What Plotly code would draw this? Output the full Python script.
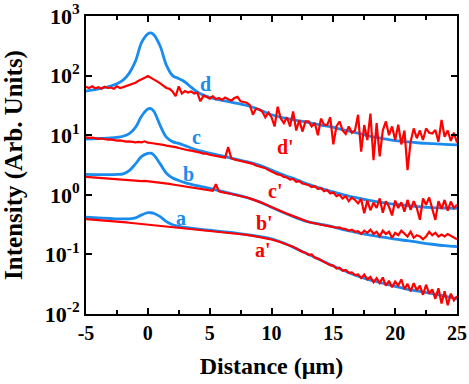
import numpy as np
import plotly.graph_objects as go

# blue curves (smooth), sampled at these distances (um)
x_blue = [-5, -4, -3, -2.5, -2, -1.5, -1, -0.5, 0, 0.25, 0.5, 1, 1.5, 2, 2.5, 3, 3.5, 4, 4.5, 5,
          6, 7, 8, 9, 10, 11, 12, 13, 14, 15, 16, 17, 18, 19, 20, 21, 22, 23, 24, 25]
blue_d = [55, 60, 67, 73, 84, 110, 175, 360, 500, 520, 480, 310, 150, 100, 89, 78, 64, 53, 47, 43,
          38.5, 35, 31.5, 27, 22, 19.5, 17.8, 16.3, 14.8, 13.5, 12, 10.8, 9.6, 8.8, 8.1, 7.7, 7.4, 7.2, 7.0, 6.9]
blue_c = [8.6, 8.8, 9.0, 9.2, 9.6, 10.6, 13.5, 21, 27.5, 28, 25, 14.5, 9.3, 7.8, 7.3, 6.7, 6.1, 5.6, 5.3, 5.0,
          4.5, 4.0, 3.6, 3.15, 2.6, 2.15, 1.8, 1.5, 1.28, 1.12, 0.98, 0.88, 0.8, 0.74, 0.69, 0.66, 0.63, 0.61, 0.6, 0.59]
blue_b = [2.2, 2.18, 2.18, 2.2, 2.25, 2.55, 3.3, 4.4, 4.95, 5.0, 4.6, 3.3, 2.3, 1.92, 1.74, 1.6, 1.5, 1.42, 1.35, 1.28,
          1.14, 1.02, 0.9, 0.77, 0.62, 0.5, 0.41, 0.35, 0.32, 0.29, 0.255, 0.23, 0.21, 0.195, 0.18, 0.17, 0.158, 0.148, 0.14, 0.135]
blue_a = [0.42, 0.41, 0.40, 0.395, 0.393, 0.395, 0.41, 0.46, 0.5, 0.5, 0.485, 0.43, 0.355, 0.315, 0.295, 0.285, 0.276, 0.268, 0.261, 0.255,
          0.242, 0.229, 0.215, 0.2, 0.183, 0.155, 0.125, 0.1, 0.08, 0.064, 0.052, 0.043, 0.037, 0.033, 0.029, 0.026, 0.024, 0.022, 0.02, 0.018]

# red curves (measured), every 0.25 um from -5 to 25
x_red = np.arange(-5, 25.001, 0.25)
red_d = [65, 62, 66, 61, 64, 60, 65, 62, 63, 60, 66, 62, 64, 67, 70, 72, 76, 82, 86, 92,
         98, 92, 88, 80, 74, 68, 62, 60, 54, 45, 66, 50, 55, 52, 54, 50, 52, 37, 46, 44,
         41, 45, 40, 42, 39, 43, 40, 38, 42, 44, 37, 36, 35, 32, 22, 28, 27, 25, 20, 24,
         20, 14, 30, 19, 16, 20, 14, 25, 12, 18, 11.5, 17, 17, 14, 16, 10, 19, 15, 14.8, 20,
         7, 14, 17, 12, 10.5, 14, 11, 12, 22, 5.3, 14.8, 8.3, 23, 3.8, 16, 4.4, 12, 17, 10, 14,
         8.3, 15, 7, 12, 2.6, 7.8, 13, 8.9, 12, 8.3, 13, 11, 10.7, 12.2, 7.8, 18, 9.4, 12, 8, 11,
         7.5]
red_c = [9.2, 9.0, 9.1, 8.8, 8.7, 8.8, 8.5, 8.4, 8.5, 8.2, 8.1, 8.2, 7.9, 7.8, 7.9, 7.7, 7.6, 7.7, 7.6, 7.9,
         7.5, 7.4, 7.3, 7.1, 7.0, 6.9, 6.7, 6.6, 6.4, 6.3, 6.1, 5.9, 5.8, 5.6, 5.5, 5.4, 5.2, 5.1, 4.9, 4.9,
         4.7, 4.6, 4.4, 4.4, 4.2, 4.2, 6.3, 4.1, 3.9, 3.8, 3.7, 3.6, 3.5, 3.4, 3.3, 3.1, 3.0, 2.9, 2.8, 2.6,
         2.45, 2.35, 2.2, 2.15, 2.0, 1.95, 1.8, 1.85, 1.65, 1.7, 1.55, 1.5, 1.45, 1.35, 1.4, 1.25, 1.3, 1.15, 1.2, 1.05,
         1.1, 0.95, 1.0, 0.87, 0.95, 0.78, 0.9, 0.82, 0.72, 0.85, 0.49, 0.8, 0.55, 0.74, 0.6, 0.87, 0.5, 0.78, 0.63, 0.45,
         0.8, 0.6, 0.75, 0.52, 0.82, 0.56, 0.78, 0.6, 0.38, 0.87, 0.68, 0.9, 0.6, 0.38, 0.78, 0.58, 0.82, 0.54, 0.77, 0.6,
         0.68]
red_b = [2.0, 1.98, 1.97, 1.95, 1.93, 1.91, 1.9, 1.87, 1.86, 1.83, 1.8, 1.79, 1.77, 1.76, 1.75, 1.73, 1.72, 1.71, 1.7, 1.71,
         1.69, 1.68, 1.66, 1.63, 1.6, 1.58, 1.55, 1.52, 1.49, 1.46, 1.43, 1.4, 1.38, 1.35, 1.32, 1.3, 1.28, 1.25, 1.23, 1.2,
         1.18, 1.17, 1.5, 1.14, 1.11, 1.09, 1.06, 1.03, 1.0, 0.98, 0.95, 0.93, 0.9, 0.87, 0.84, 0.8, 0.76, 0.73, 0.69, 0.66,
         0.62, 0.59, 0.56, 0.53, 0.5, 0.48, 0.46, 0.44, 0.41, 0.4, 0.38, 0.36, 0.35, 0.34, 0.33, 0.32, 0.315, 0.31, 0.3, 0.295,
         0.29, 0.28, 0.285, 0.27, 0.265, 0.25, 0.26, 0.24, 0.245, 0.22, 0.25, 0.23, 0.26, 0.22, 0.24, 0.2, 0.25, 0.22, 0.24, 0.19,
         0.23, 0.21, 0.25, 0.22, 0.2, 0.24, 0.19, 0.21, 0.2, 0.18, 0.2, 0.24, 0.21, 0.23, 0.2, 0.215, 0.2, 0.22, 0.205, 0.19,
         0.18]
red_a = [0.39, 0.388, 0.383, 0.38, 0.378, 0.372, 0.37, 0.366, 0.362, 0.36, 0.355, 0.352, 0.348, 0.345, 0.34, 0.336, 0.333, 0.33, 0.326, 0.322,
         0.318, 0.316, 0.312, 0.31, 0.305, 0.302, 0.298, 0.293, 0.288, 0.284, 0.282, 0.278, 0.275, 0.272, 0.27, 0.266, 0.263, 0.262, 0.258, 0.255,
         0.252, 0.25, 0.246, 0.243, 0.24, 0.238, 0.235, 0.232, 0.228, 0.225, 0.22, 0.216, 0.212, 0.21, 0.205, 0.2, 0.194, 0.19, 0.186, 0.182,
         0.178, 0.172, 0.168, 0.16, 0.152, 0.148, 0.14, 0.134, 0.125, 0.12, 0.11, 0.107, 0.098, 0.1, 0.088, 0.085, 0.08, 0.074, 0.071, 0.066,
         0.065, 0.058, 0.06, 0.053, 0.055, 0.049, 0.05, 0.045, 0.046, 0.04, 0.046, 0.038, 0.042, 0.034, 0.04, 0.033, 0.041, 0.03, 0.036, 0.028,
         0.035, 0.03, 0.038, 0.026, 0.032, 0.024, 0.033, 0.025, 0.03, 0.021, 0.031, 0.022, 0.026, 0.018, 0.027, 0.015, 0.024, 0.014, 0.022, 0.017,
         0.02]

# curve labels: (text, x, log10 y, colour)
labels = [("d", 4.7, 1.86, "blue"), ("c", 3.9, 0.975, "blue"), ("b", 3.3, 0.35, "blue"), ("a", 2.7, -0.39, "blue"),
          ("d'", 11.1, 0.81, "red"), ("c'", 10.3, 0.07, "red"), ("b'", 9.4, -0.48, "red"), ("a'", 9.3, -0.92, "red")]

BLUE = "#1a8cf0"
RED = "#ff0000"
FONT = "Liberation Serif"

fig = go.Figure()
for ys in (blue_d, blue_c, blue_b, blue_a):
    fig.add_trace(go.Scatter(x=x_blue, y=ys, mode="lines", line=dict(color=BLUE, width=2.8, shape="spline"),
                             showlegend=False))
for ys in (red_d, red_c, red_b, red_a):
    fig.add_trace(go.Scatter(x=x_red, y=ys, mode="lines", line=dict(color=RED, width=2.2),
                             showlegend=False))

for txt, lx, ly, c in labels:
    fig.add_annotation(x=lx, y=ly, text=txt, showarrow=False,
                       font=dict(family=FONT, size=20, color=BLUE if c == "blue" else RED, weight="bold"))

axis_common = dict(showline=True, linecolor="black", linewidth=2, mirror="ticks", ticks="inside",
                   tickcolor="black", tickwidth=1.5, ticklen=6, showgrid=False, zeroline=False,
                   automargin=False, ticklabeloverflow="allow")

fig.update_xaxes(range=[-5, 25], tickvals=[-5, 0, 5, 10, 15, 20, 25],
                 ticktext=["-5", "0", "5", "10", "15", "20", "25"],
                 tickfont=dict(family=FONT, size=20, color="black", weight="bold"),
                 minor=dict(ticks="inside", tickvals=[-2.5, 2.5, 7.5, 12.5, 17.5, 22.5], ticklen=4,
                            tickcolor="black", tickwidth=1.5),
                 title=dict(text="Distance (μm)", font=dict(family=FONT, size=24, color="black", weight="bold"),
                            standoff=14),
                 **axis_common)
fig.update_yaxes(type="log", range=[-2, 3], tickvals=[0.01, 0.1, 1, 10, 100, 1000],
                 ticktext=["10<sup>-2</sup>", "10<sup>-1</sup>", "10<sup>0</sup>", "10<sup>1</sup>",
                           "10<sup>2</sup>", "10<sup>3</sup>"],
                 tickfont=dict(family=FONT, size=22, color="black", weight="bold"),
                 title=dict(text="Intensity (Arb. Units)", font=dict(family=FONT, size=25, color="black", weight="bold"),
                            standoff=16),
                 **axis_common)

fig.update_layout(width=469, height=384, margin=dict(l=86, r=12, t=16, b=70),
                  plot_bgcolor="white", paper_bgcolor="white")

# drop the default 8px page margin so the figure fills the window exactly
fig.write_html("out.html", config={"displayModeBar": False},
               post_script="document.body.style.margin='0px';document.body.style.overflow='hidden';")
